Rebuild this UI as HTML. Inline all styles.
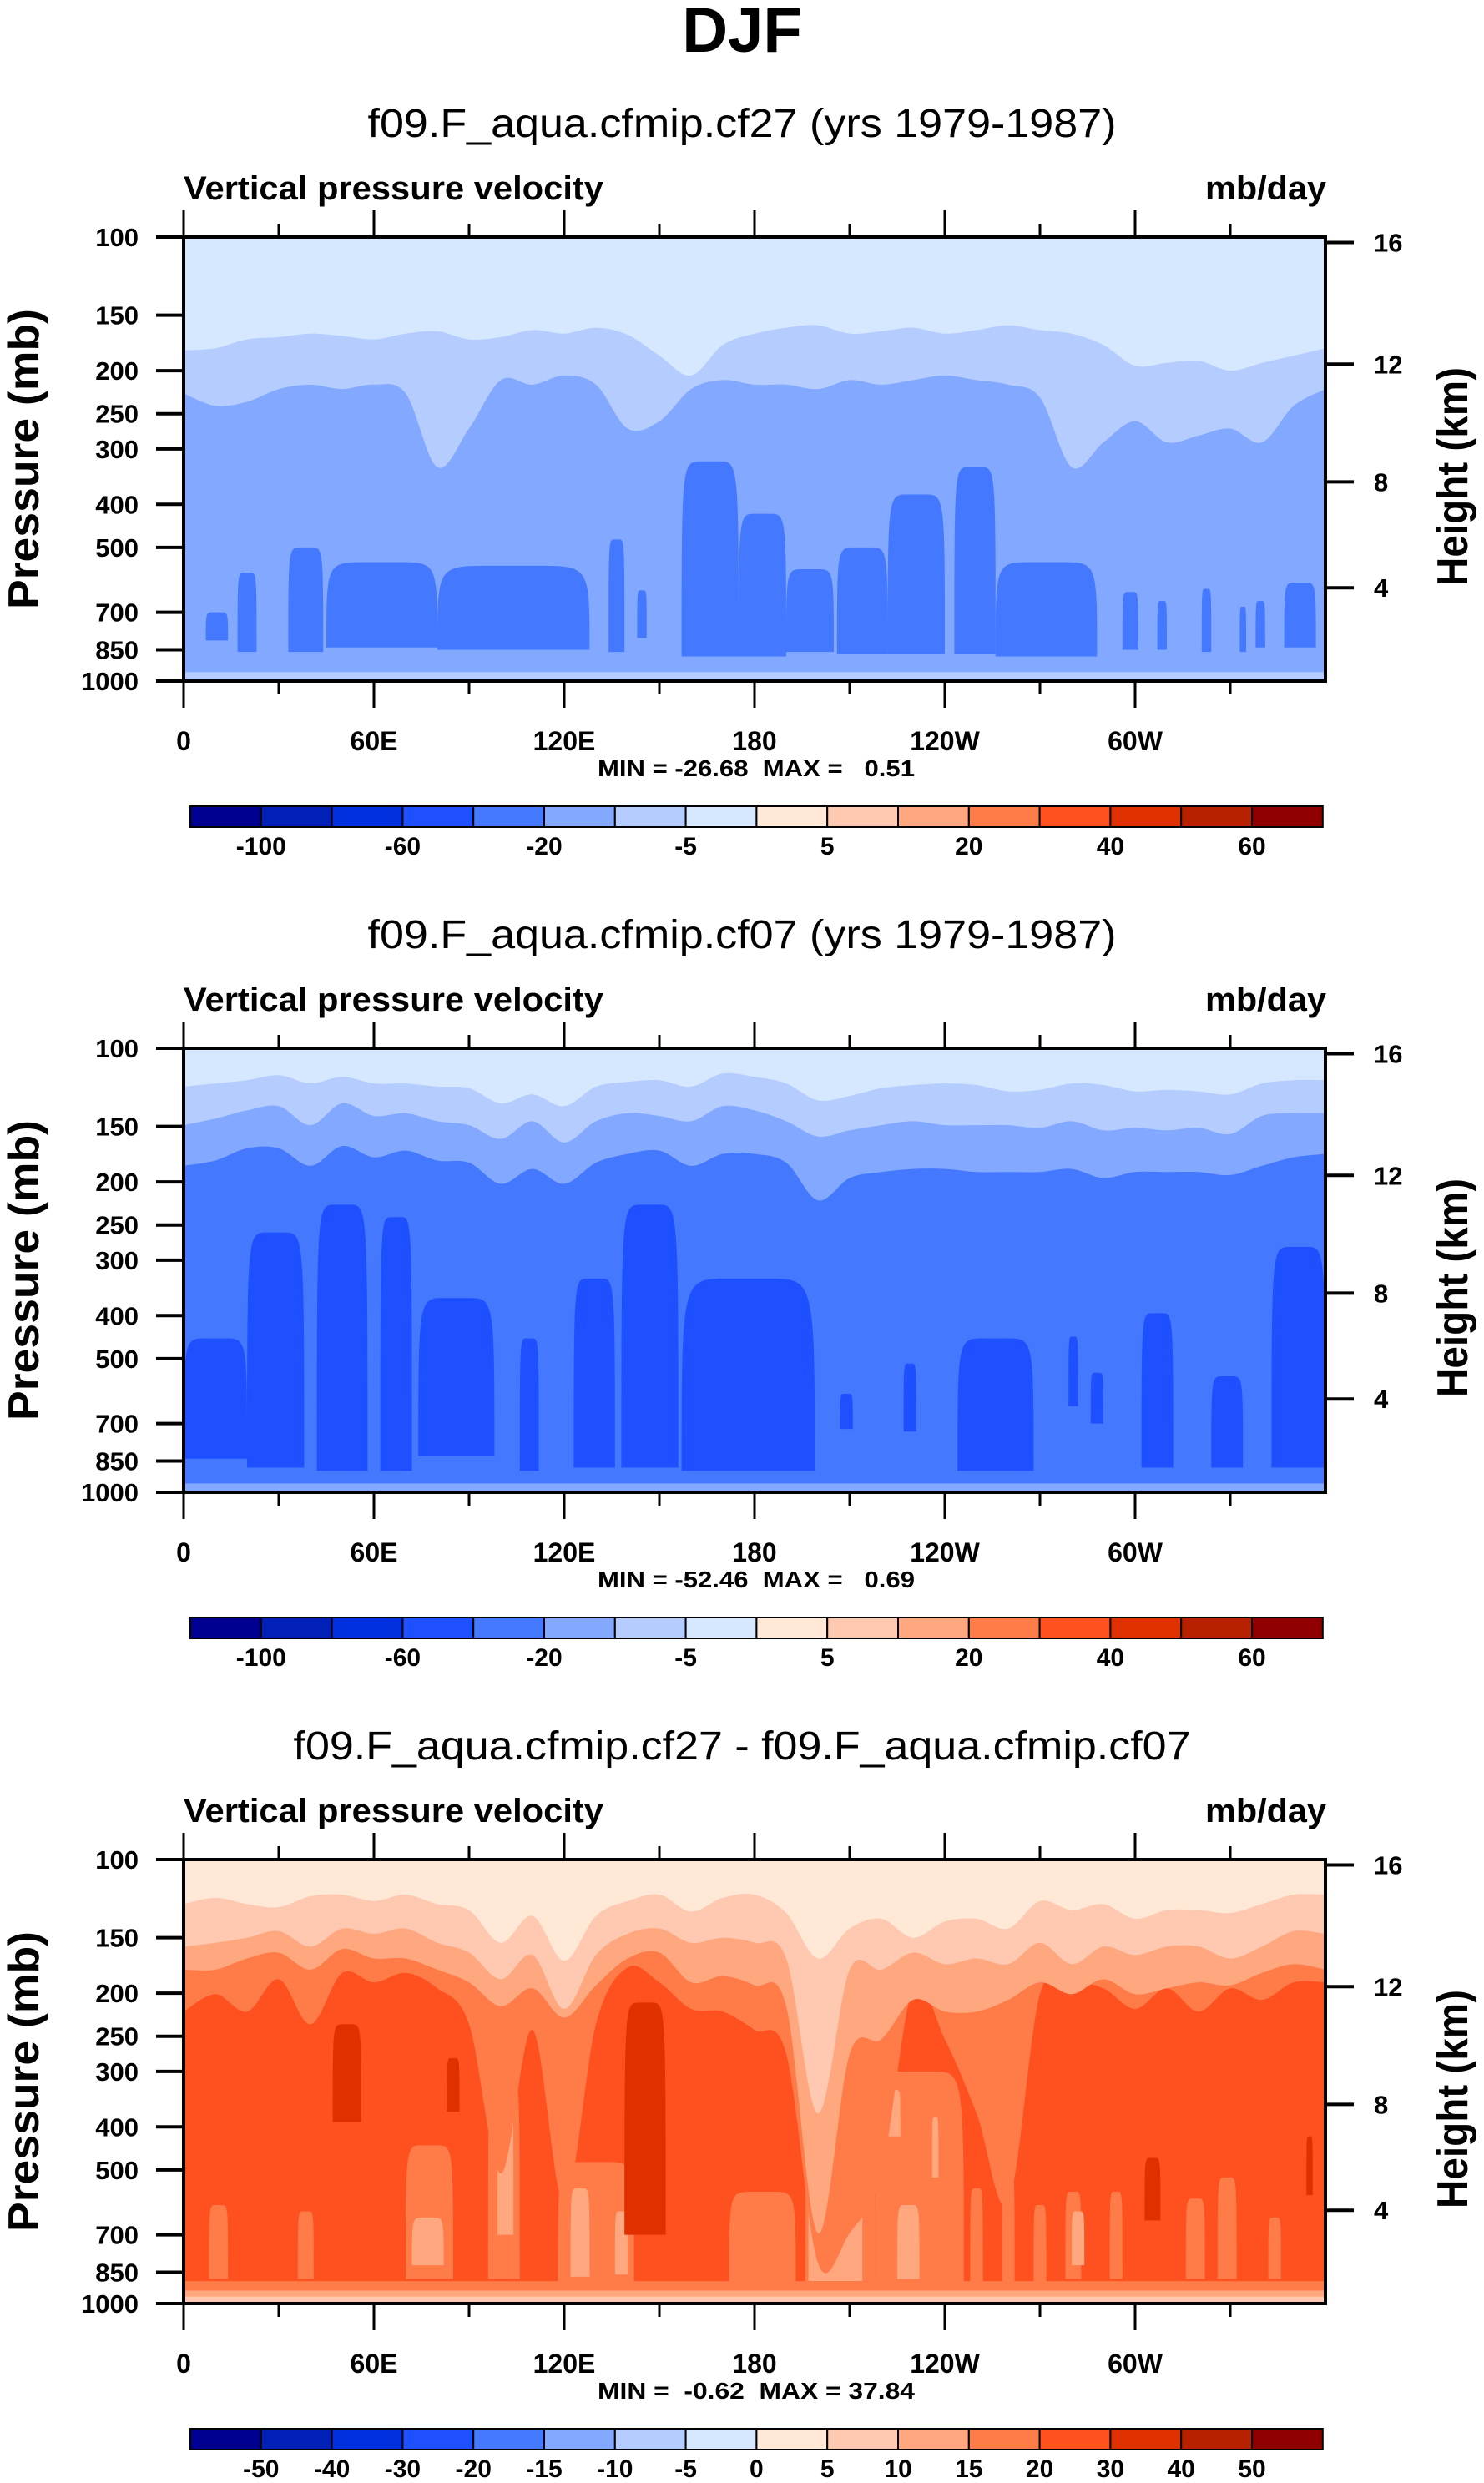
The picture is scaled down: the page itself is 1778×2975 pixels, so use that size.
<!DOCTYPE html>
<html><head><meta charset="utf-8"><title>DJF Vertical pressure velocity</title>
<style>
html,body{margin:0;padding:0;background:#fff;}
svg{display:block;font-family:"Liberation Sans",sans-serif;}
</style></head>
<body>
<svg id="fig" xmlns="http://www.w3.org/2000/svg" width="1778" height="2975" viewBox="0 0 1778 2975">
<text x="889" y="62" text-anchor="middle" font-size="76" font-weight="bold">DJF</text>
</svg>
<script>
// ---------- data ----------
const lonGrid = [];
for (let l = 0; l <= 360; l += 10) lonGrid.push(l);

const presTicks = [100,150,200,250,300,400,500,700,850,1000];
const kmTicks = [16,12,8,4];
const lonTickVals = [0,60,120,180,240,300];
const lonTickLabels = ["0","60E","120E","180","120W","60W"];

const cbColors = ["#000090","#0020b8","#0030e0","#1f50ff","#4478ff","#82a8ff","#b4ccff","#d6e8ff","#ffe8d6","#ffc8b0","#ffa880","#ff7c48","#ff5020","#e03000","#b82000","#900000"];
const cbLabelsAbs = ["","-100","","-60","","-20","","-5","","5","","20","","40","","60"];
const cbLabelsDiff = ["","-50","-40","-30","-20","-15","-10","-5","0","5","10","15","20","30","40","50"];

const titles = ["f09.F_aqua.cfmip.cf27 (yrs 1979-1987)","f09.F_aqua.cfmip.cf07 (yrs 1979-1987)","f09.F_aqua.cfmip.cf27 - f09.F_aqua.cfmip.cf07"];
const minmax = ["MIN = -26.68  MAX =   0.51","MIN = -52.46  MAX =   0.69","MIN =  -0.62  MAX = 37.84"];

// panel 1 level boundaries (mb) at 10 deg
const p1Bound1 = [180,178,170,168,165,167,170,165,163,170,168,162,165,160,166,185,205,175,165,160,158,165,163,160,165,162,158,162,165,175,195,192,190,200,192,185,178];
const p1Bound2 = [225,240,235,220,215,220,215,225,330,270,210,215,205,215,270,260,220,210,215,215,220,210,215,210,205,210,215,230,330,290,260,290,280,270,290,240,220];
// panel 1 blobs [lonStart, lonEnd, top mb, bottom mb]
const p1Blobs = [[7,14,700,810],[17,23,570,860],[33,44,500,860],[45,80,540,840],[80,128,550,850],[134,139,480,860],[143,146,625,800],[157,175,320,880],[175,190,420,880],[190,205,560,860],[206,222,500,870],[222,240,380,870],[243,256,330,870],[256,288,540,880],[296,301,630,850],[307,310,660,850],[321,324,620,860],[333,335,680,860],[338,341,660,840],[347,357,600,840]];

// panel 2
const p2BoundA = [122,120,118,115,120,116,120,120,122,123,133,127,135,122,119,118,122,114,116,120,131,128,123,121,120,121,125,124,120,121,125,124,125,127,120,118,118];
const p2BoundB = [149,144,138,135,149,133,142,140,146,149,160,146,163,146,140,142,146,135,138,146,158,153,149,146,149,149,149,151,146,153,151,153,151,156,142,140,140];
const p2BoundC = [184,179,168,168,184,166,176,170,179,181,202,187,202,181,173,170,184,173,173,181,220,196,190,187,187,190,190,190,187,196,190,190,190,193,184,176,173];
const p2Blobs = [[0,20,450,840],[20,38,260,880],[42,58,225,895],[62,72,240,895],[74,98,365,830],[106,112,450,895],[123,136,330,880],[138,156,225,880],[157,199,330,895],[207,211,600,720],[227,231,513,730],[244,268,450,895],[279,282,446,640],[286,290,538,700],[302,312,395,880],[324,334,548,880],[343,360,280,880]];

// panel 3 (difference)
const p3B1 = [126,122,126,128,121,120,124,120,126,130,154,134,169,134,124,120,131,122,120,132,167,143,136,150,138,136,143,124,130,126,136,130,130,132,126,120,120];
const p3B2 = [157,154,150,145,157,143,147,143,154,162,186,164,217,164,147,143,154,150,154,167,373,177,177,162,172,167,172,154,172,157,164,157,157,167,157,145,147];
const p3B3 = [177,177,167,162,177,159,167,167,177,189,214,195,227,192,167,162,189,183,192,214,694,274,254,207,220,220,207,189,201,186,201,195,189,192,180,172,177];
const p3B4 = [220,201,220,186,235,180,189,180,195,235,509,242,595,235,175,189,217,220,242,274,811,694,509,195,254,373,595,201,189,195,217,195,220,195,207,189,189];
const p3Blobs15 = [[8,14,600,880],[36,41,620,880],[70,85,440,880],[96,106,300,880],[118,142,480,890],[172,193,560,890],[196,218,280,890],[218,246,300,890],[248,252,550,890],[258,262,500,890],[268,272,600,890],[278,283,560,880],[292,296,560,880],[316,322,580,880],[326,332,520,880],[342,346,640,880]];
const p3Blobs10 = [[72,82,640,820],[99,104,320,700],[122,128,550,870],[136,140,620,860],[197,214,250,890],[222,226,330,420],[225,232,600,880],[236,238,380,520],[280,284,620,820]];
const p3Blobs30 = [[47,56,235,390],[83,87,280,370],[139,152,210,700],[303,308,470,650],[354,356,420,570]];

// ---------- drawing ----------
const NS = "http://www.w3.org/2000/svg";
const svg = document.getElementById("fig");
const PX0 = 220, PX1 = 1588, PH = 532, PTOP = 284, DY = 972;
function xLon(l){ return PX0 + l/360*(PX1-PX0); }
function yP(p, top){ return top + Math.log10(p/100)*PH; }
function kmToP(h){ return h <= 11 ? 1013.25*Math.pow(1-h/44.3308,5.2559) : 226.32*Math.exp(-(h-11)/6.3416); }
function mk(tag, attrs, parent){
  const e = document.createElementNS(NS, tag);
  for (const k in attrs) e.setAttribute(k, attrs[k]);
  (parent||svg).appendChild(e); return e;
}
function curvePath(pts){
  let d = "M"+pts[0][0]+","+pts[0][1];
  for (let i=0;i<pts.length-1;i++){
    const p0=pts[Math.max(0,i-1)],p1=pts[i],p2=pts[i+1],p3=pts[Math.min(pts.length-1,i+2)];
    const c1x=p1[0]+(p2[0]-p0[0])/6,c1y=p1[1]+(p2[1]-p0[1])/6;
    const c2x=p2[0]-(p3[0]-p1[0])/6,c2y=p2[1]-(p3[1]-p1[1])/6;
    d+=" C"+c1x.toFixed(1)+","+c1y.toFixed(1)+" "+c2x.toFixed(1)+","+c2y.toFixed(1)+" "+p2[0].toFixed(1)+","+p2[1].toFixed(1);
  }
  return d;
}
function fillAbove(g, bound, color, top, name){
  const pts = lonGrid.map((l,i)=>[xLon(l), yP(bound[i], top)]);
  const d = "M"+xLon(0)+","+top+" L"+pts[0][0]+","+pts[0][1]+curvePath(pts).replace(/^M[^C]*/," ")+" L"+xLon(360)+","+top+" Z";
  const e = mk("path",{d:d, fill:color},g);
  
  
}
function drawBlob(g, b, color, top, name){
  const x0=xLon(b[0]), x1=xLon(b[1]), yt=yP(b[2],top), yb=yP(b[3],top), w=x1-x0;
  const d = "M"+x0+","+yb+" C"+x0+","+yt+" "+x0+","+yt+" "+(x0+w*0.35)+","+yt+" L"+(x1-w*0.35)+","+yt+" C"+x1+","+yt+" "+x1+","+yt+" "+x1+","+yb+" Z";
  const e = mk("path",{d:d, fill:color},g);
  
  
}
function band(g, p0, p1, color, top, name){
  const e = mk("rect",{x:PX0, y:yP(p0,top), width:PX1-PX0, height:yP(p1,top)-yP(p0,top), fill:color},g);
  
  
}
function txt(s, attrs, name){
  const e = mk("text", attrs); e.textContent = s;
  
  
  return e;
}

for (let k=0;k<3;k++){
  const off = k*DY, top = PTOP+off;
  txt(titles[k],{x:889,y:164+off,"text-anchor":"middle","font-size":48,textLength:(k==2?1075:897),lengthAdjust:"spacingAndGlyphs"},"panel-title");
  txt("Vertical pressure velocity",{x:220,y:239+off,"font-size":40,"font-weight":"bold",textLength:503,lengthAdjust:"spacingAndGlyphs"},"variable-label");
  txt("mb/day",{x:1589,y:239+off,"text-anchor":"end","font-size":40,"font-weight":"bold",textLength:145,lengthAdjust:"spacingAndGlyphs"},"units-label");

  const cid = "clip"+k;
  const defs = mk("defs",{});
  const cp = mk("clipPath",{id:cid},defs);
  mk("rect",{x:PX0,y:top,width:PX1-PX0,height:PH},cp);
  const g = mk("g",{"clip-path":"url(#"+cid+")"});
  
  

  if (k==0){
    band(g,100,1000,"#82a8ff",top,"level-fill");
    fillAbove(g,p1Bound2,"#b4ccff",top,"level-fill");
    fillAbove(g,p1Bound1,"#d6e8ff",top,"level-fill");
    p1Blobs.forEach(b=>drawBlob(g,b,"#4478ff",top,"contour-blob"));
    band(g,955,1000,"#b4ccff",top,"surface-band");
  } else if (k==1){
    band(g,100,1000,"#4478ff",top,"level-fill");
    fillAbove(g,p2BoundC,"#82a8ff",top,"level-fill");
    fillAbove(g,p2BoundB,"#b4ccff",top,"level-fill");
    fillAbove(g,p2BoundA,"#d6e8ff",top,"level-fill");
    p2Blobs.forEach(b=>drawBlob(g,b,"#1f50ff",top,"contour-blob"));
    band(g,955,1000,"#82a8ff",top,"surface-band");
  } else {
    band(g,100,1000,"#ff5020",top,"level-fill");
    p3Blobs15.forEach(b=>drawBlob(g,b,"#ff7c48",top,"contour-blob"));
    p3Blobs10.forEach(b=>drawBlob(g,b,"#ffa880",top,"contour-blob"));
    p3Blobs30.forEach(b=>drawBlob(g,b,"#e03000",top,"contour-blob"));
    fillAbove(g,p3B4,"#ff7c48",top,"level-fill");
    fillAbove(g,p3B3,"#ffa880",top,"level-fill");
    fillAbove(g,p3B2,"#ffc8b0",top,"level-fill");
    fillAbove(g,p3B1,"#ffe8d6",top,"level-fill");
    band(g,890,1000,"#ff7c48",top,"surface-band");
    band(g,935,1000,"#ffa880",top,"surface-band");
    band(g,965,1000,"#ffc8b0",top,"surface-band");
  }

  const frame = mk("rect",{x:PX0,y:top,width:PX1-PX0,height:PH,fill:"none",stroke:"#000","stroke-width":4});
  
  

  presTicks.forEach(p=>{
    const y = yP(p,top);
    const t = mk("line",{x1:PX0-33,x2:PX0,y1:y,y2:y,stroke:"#000","stroke-width":4});
    
    
    txt(String(p),{x:166,y:y+11,"text-anchor":"end","font-size":31,"font-weight":"bold"},"y-tick-label");
  });
  kmTicks.forEach(h=>{
    const y = yP(kmToP(h),top);
    const t = mk("line",{x1:PX1,x2:PX1+34,y1:y,y2:y,stroke:"#000","stroke-width":4});
    
    
    txt(String(h),{x:1646,y:y+11,"font-size":31,"font-weight":"bold"},"height-tick-label");
  });
  for (let l=0;l<=330;l+=30){
    const x = xLon(l), major = (l%60==0), len = major?32:16;
    const t1 = mk("line",{x1:x,x2:x,y1:top,y2:top-len,stroke:"#000","stroke-width":3});
    
    
    const t2 = mk("line",{x1:x,x2:x,y1:top+PH,y2:top+PH+len,stroke:"#000","stroke-width":3});
    
    
  }
  lonTickVals.forEach((l,i)=>{
    txt(lonTickLabels[i],{x:xLon(l),y:899+off,"text-anchor":"middle","font-size":32,"font-weight":"bold"},"x-tick-label");
  });
  txt(minmax[k],{x:906,y:930+off,"text-anchor":"middle","font-size":28,"font-weight":"bold",style:"white-space:pre",textLength:380,lengthAdjust:"spacingAndGlyphs"},"min-max-label");
  txt("Pressure (mb)",{x:0,y:0,"text-anchor":"middle","font-size":52,"font-weight":"bold",textLength:360,lengthAdjust:"spacingAndGlyphs",transform:"translate(46,"+(top+PH/2)+") rotate(-90)"},"y-axis-title");
  txt("Height (km)",{x:0,y:0,"text-anchor":"middle","font-size":52,"font-weight":"bold",textLength:262,lengthAdjust:"spacingAndGlyphs",transform:"translate(1758,"+(top+PH/2+21)+") rotate(-90)"},"right-axis-title");

  const cbx = 228, cbw = 84.8, cby = 966+off, cbh = 25;
  const labels = k==2 ? cbLabelsDiff : cbLabelsAbs;
  cbColors.forEach((c,i)=>{
    const r = mk("rect",{x:cbx+i*cbw,y:cby,width:cbw,height:cbh,fill:c,stroke:"#000","stroke-width":2});
    
    
    if (labels[i]) txt(labels[i],{x:cbx+i*cbw,y:1024+off,"text-anchor":"middle","font-size":30,"font-weight":"bold"},"colorbar-label");
  });
}
</script>
</body></html>
